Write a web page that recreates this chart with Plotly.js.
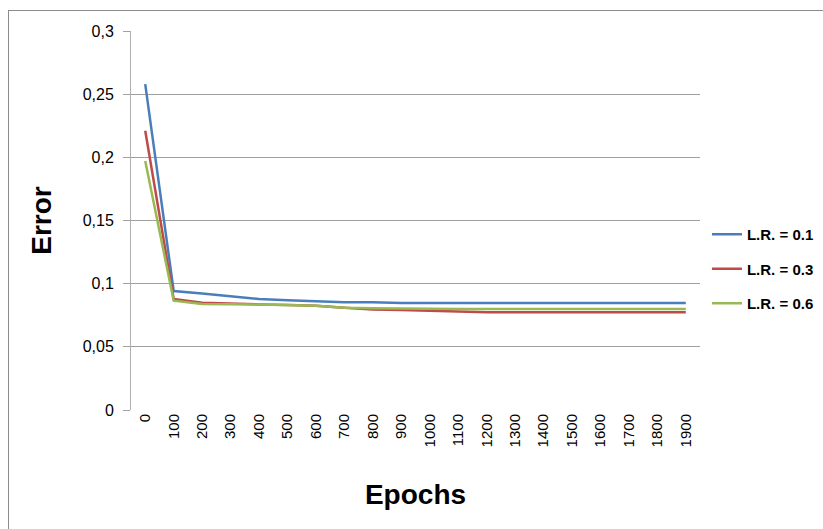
<!DOCTYPE html>
<html>
<head>
<meta charset="utf-8">
<script src="https://cdn.plot.ly/plotly-3.0.1.min.js"></script>
<style>
html,body{margin:0;padding:0;background:#fff;}
#wrap{position:relative;width:823px;height:529px;overflow:hidden;}
#frame{position:absolute;left:8px;top:10px;width:900px;height:600px;border-left:1px solid #8c8c8c;border-top:1px solid #8c8c8c;pointer-events:none;}
#chart{position:absolute;left:0;top:0;width:823px;height:529px;}
</style>
</head>
<body>
<div id="wrap">
<div id="chart"></div>
<div id="frame"></div>
</div>
<script>
const epochs = ['0','100','200','300','400','500','600','700','800','900','1000','1100','1200','1300','1400','1500','1600','1700','1800','1900'];
const lr01 = [0.258,0.0942,0.0923,0.0900,0.0878,0.0868,0.0860,0.0852,0.0852,0.0846,0.0846,0.0846,0.0846,0.0846,0.0846,0.0846,0.0846,0.0846,0.0846,0.0846];
const lr03 = [0.221,0.0878,0.0849,0.0840,0.0836,0.0832,0.0826,0.0810,0.0795,0.0792,0.0786,0.0780,0.0774,0.0774,0.0774,0.0774,0.0774,0.0774,0.0774,0.0774];
const lr06 = [0.197,0.0865,0.0839,0.0838,0.0836,0.0832,0.0826,0.0810,0.0805,0.0802,0.0800,0.0800,0.0800,0.0800,0.0800,0.0800,0.0800,0.0800,0.0800,0.0800];
const seriesNames = ['L.R. = 0.1','L.R. = 0.3','L.R. = 0.6'];
const yTickVals = [0,0.05,0.1,0.15,0.2,0.25,0.3];
const yTickText = ['0','0,05','0,1','0,15','0,2','0,25','0,3'];

const colors = ['#4a7ebb','#be4b48','#98b954'];
const series = [lr01, lr03, lr06];
const traces = series.map((s,i)=>({
  x: epochs, y: s, type:'scatter', mode:'lines', name: seriesNames[i],
  legendgroup:'g'+i,
  line:{color:colors[i], width:2.5}
}));

const layout = {
  width:823, height:529,
  margin:{l:131, r:123, t:31, b:119, autoexpand:false},
  paper_bgcolor:'rgba(0,0,0,0)', plot_bgcolor:'rgba(0,0,0,0)',
  font:{family:'Liberation Sans, Arial, sans-serif', size:15, color:'#000'},
  showlegend:true,
  legend:{xref:'container', yref:'container', x:0.859, y:0.4915, xanchor:'left', yanchor:'middle',
    traceorder:'grouped', tracegroupgap:12,
    font:{size:15, family:'Liberation Sans, Arial, sans-serif', weight:'bold'}, itemwidth:30, bgcolor:'rgba(0,0,0,0)'},
  xaxis:{
    type:'category', range:[-0.5,19.5], tickangle:-90,
    showgrid:false, showline:false, zeroline:false, ticks:'',
    tickfont:{size:15}, fixedrange:true,
    title:{text:'Epochs', font:{size:28, weight:'bold'}, standoff:38}
  },
  yaxis:{
    range:[0,0.3], tickvals:yTickVals, ticktext:yTickText,
    showgrid:true, gridcolor:'#a0a0a0', gridwidth:1,
    showline:true, linecolor:'#b0b0b0', linewidth:1,
    zeroline:false, ticks:'outside', ticklen:7, tickcolor:'#a0a0a0',
    ticklabelstandoff:6,
    tickfont:{size:16}, fixedrange:true,
    title:{text:'Error', font:{size:28, weight:'bold'}, standoff:22}
  }
};
Plotly.newPlot('chart', traces, layout, {displayModeBar:false, staticPlot:true});
</script>
</body>
</html>
